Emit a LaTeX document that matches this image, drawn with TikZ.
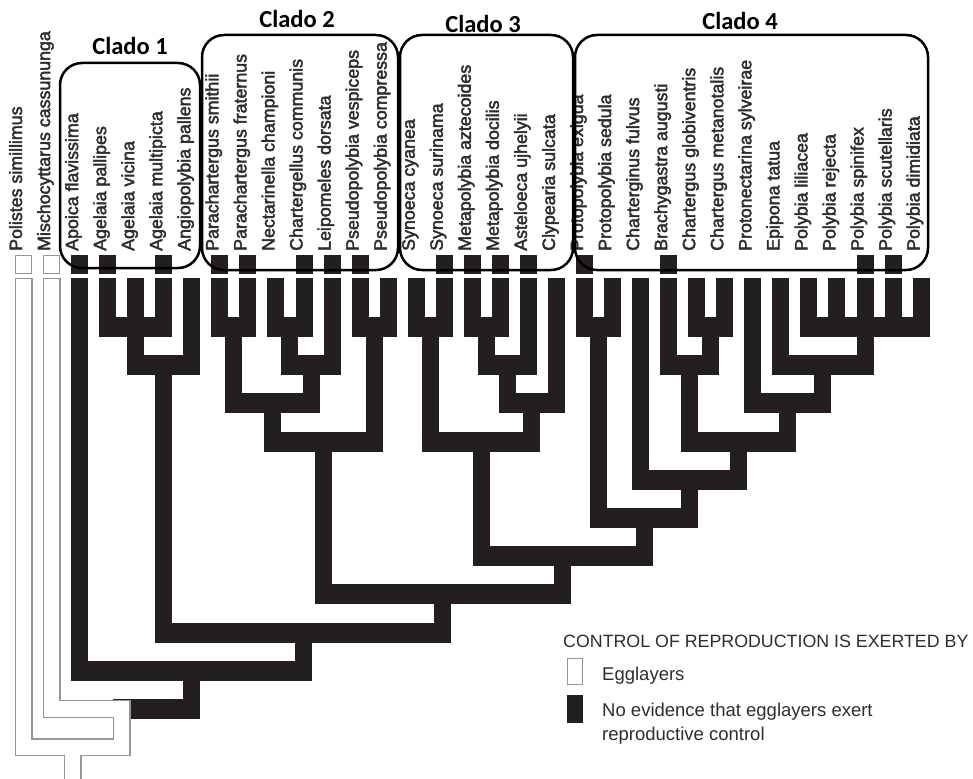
\documentclass[tikz,border=0pt]{standalone}
\usepackage{fontspec}
\setmainfont{Liberation Sans}
\newfontfamily\tipfont[FakeBold=2.5]{Liberation Sans}
\newfontfamily\cladofont{Carlito}
\usetikzlibrary{calc}
\definecolor{TreeBlack}{RGB}{35,31,32}
\definecolor{OutGray}{RGB}{150,150,150}
\definecolor{TextGray}{RGB}{45,45,45}

% internal node: name, level, first child, last child
\newcommand\clade[4]{\path let \p1=(#3), \p2=(#4) in ({(\x1+\x2)/2},{-327pt-38.2pt*(#2-1)}) coordinate (#1);}

\begin{document}
\begin{tikzpicture}[x=1pt,y=-1pt,
vbar/.style={line width=17pt,draw=TreeBlack},
hbar/.style={line width=20pt,draw=TreeBlack,shorten <=-8.5pt,shorten >=-8.5pt},
tip/.style={rotate=90,anchor=base west,inner sep=0pt,text=TextGray,font=\tipfont\fontsize{17.8}{20}\selectfont},
sq/.style={fill=TreeBlack},
cladebox/.style={draw=black,line width=2.5pt,rounded corners=22pt},
cladelabel/.style={font=\cladofont\bfseries\fontsize{24.5}{28}\selectfont,anchor=base,inner sep=0pt},
legend/.style={font=\fontsize{18.5}{22}\selectfont,text=TextGray,anchor=base west,inner sep=0pt}
]
\useasboundingbox (0,0) rectangle (973,778);
\clip (0,0) rectangle (973,778);

\foreach \i in {0,...,32} \coordinate (t\i) at ({23.5+28.05*\i},278);
\coordinate (bot) at (0,800);

% Clado 1
\clade{G}{1}{t3}{t5}
\clade{H}{2}{G}{t6}
% Clado 2
\clade{A}{1}{t7}{t8}
\clade{B}{1}{t9}{t10}
\clade{C}{2}{B}{t11}
\clade{D}{3}{A}{C}
\clade{E}{1}{t12}{t13}
\clade{F}{4}{D}{E}
% Clado 3
\clade{K1}{1}{t14}{t15}
\clade{K2}{1}{t16}{t17}
\clade{K3}{2}{K2}{t18}
\clade{K4}{3}{K3}{t19}
\clade{K5}{4}{K1}{K4}
% Clado 4
\clade{L1}{1}{t20}{t21}
\clade{L2}{1}{t24}{t25}
\clade{L3}{2}{t23}{L2}
\clade{P}{1}{t28}{t32}
\clade{Q}{2}{t27}{P}
\clade{R}{3}{t26}{Q}
\clade{S}{4}{L3}{R}
\clade{U}{5}{t22}{S}
\clade{V}{6}{L1}{U}
% backbone
\clade{W}{7}{K5}{V}
\clade{X}{8}{F}{W}
\clade{Y}{9}{H}{X}
\clade{Z}{10}{t2}{Y}
\clade{M}{11}{t1}{Z}
\clade{RT}{12}{t0}{M}

% black branches
\foreach \n/\a/\b in {G/t3/t5,H/G/t6,A/t7/t8,B/t9/t10,C/B/t11,D/A/C,E/t12/t13,F/D/E,
  K1/t14/t15,K2/t16/t17,K3/K2/t18,K4/K3/t19,K5/K1/K4,
  L1/t20/t21,L2/t24/t25,L3/t23/L2,P/t28/t32,Q/t27/P,R/t26/Q,S/L3/R,U/t22/S,V/L1/U,
  W/K5/V,X/F/W,Y/H/X,Z/t2/Y,M/M/Z}
  \draw[hbar] (\a |- \n) -- (\b |- \n);
\foreach \c/\n in {t3/G,t4/G,t5/G,G/H,t6/H,H/Y,
  t7/A,t8/A,t9/B,t10/B,B/C,t11/C,A/D,C/D,t12/E,t13/E,D/F,E/F,F/X,
  t14/K1,t15/K1,t16/K2,t17/K2,K2/K3,t18/K3,K3/K4,t19/K4,K1/K5,K4/K5,K5/W,
  t20/L1,t21/L1,t24/L2,t25/L2,t23/L3,L2/L3,t28/P,t29/P,t30/P,t31/P,t32/P,
  t27/Q,P/Q,t26/R,Q/R,L3/S,R/S,t22/U,S/U,L1/V,U/V,V/W,
  W/X,X/Y,Y/Z,t2/Z,Z/M}
  \draw[vbar] (\c) -- (\c |- \n);

% outgroups, white with grey edge
\foreach \col/\w in {OutGray/18pt,white/15.4pt}
  \draw[draw=\col,line width=\w,line cap=rect,line join=miter]
    ($(t0)+(0,9)$) -- (t0 |- RT) -- (M |- RT)
    ($(t1)+(0,9)$) -- (t1 |- M) -- (M) -- (M |- RT)
    (RT) -- (RT |- bot);

% character states
\foreach \i in {2,3,5,7,8,10,11,12,15,16,17,18,20,23,30,31}
  \fill[sq] ($(t\i)+(-8.5,-23)$) rectangle ($(t\i)+(8.5,-4)$);
\foreach \i in {0,1}
  \draw[OutGray,fill=white,line width=1.3pt] ($(t\i)+(-7.85,-22.35)$) rectangle ($(t\i)+(7.85,-4.65)$);

% species
\foreach \i/\name in {0/Polistes simillimus,1/Mischocyttarus cassununga,2/Apoica flavissima,
  3/Agelaia pallipes,4/Agelaia vicina,5/Agelaia multipicta,6/Angiopolybia pallens,
  7/Parachartergus smithii,8/Parachartergus fraternus,9/Nectarinella championi,
  10/Chartergellus communis,11/Leipomeles dorsata,12/Pseudopolybia vespiceps,
  13/Pseudopolybia compressa,14/Synoeca cyanea,15/Synoeca surinama,
  16/Metapolybia aztecoides,17/Metapolybia docilis,18/Asteloeca ujhelyii,
  19/Clypearia sulcata,20/Protopolybia exigua,21/Protopolybia sedula,
  22/Charterginus fulvus,23/Brachygastra augusti,24/Chartergus globiventris,
  25/Chartergus metanotalis,26/Protonectarina sylveirae,27/Epipona tatua,
  28/Polybia liliacea,29/Polybia rejecta,30/Polybia spinifex,
  31/Polybia scutellaris,32/Polybia dimidiata}
  \node[tip] (lab\i) at ($(t\i)+(-1.5,-27)$) {\name};

% clades
\draw[cladebox] (60,63) rectangle (200,268);
\draw[cladebox] (202,35) rectangle (398,270);
\draw[cladebox] (400,35) rectangle (573,270);
\draw[cladebox] (575,35) rectangle (928,270);
\node[cladelabel] (c1) at (130,55) {Clado 1};
\node[cladelabel] (c2) at (297,28) {Clado 2};
\node[cladelabel] (c3) at (483,33) {Clado 3};
\node[cladelabel] (c4) at (740,30) {Clado 4};

% legend
\node[legend,font=\fontsize{17.8}{22}\selectfont] (legt) at (563,647) {CONTROL OF REPRODUCTION IS EXERTED BY};
\draw[OutGray,fill=white,line width=1.3pt] (567.6,658.6) rectangle (582.4,684.4);
\node[legend] (lege) at (602,680) {Egglayers};
\fill[TreeBlack] (567,695) rectangle (583,723);
\node[legend] (legn) at (602,716) {No evidence that egglayers exert};
\node[legend] (legr) at (602,740) {reproductive control};
\end{tikzpicture}
\end{document}
